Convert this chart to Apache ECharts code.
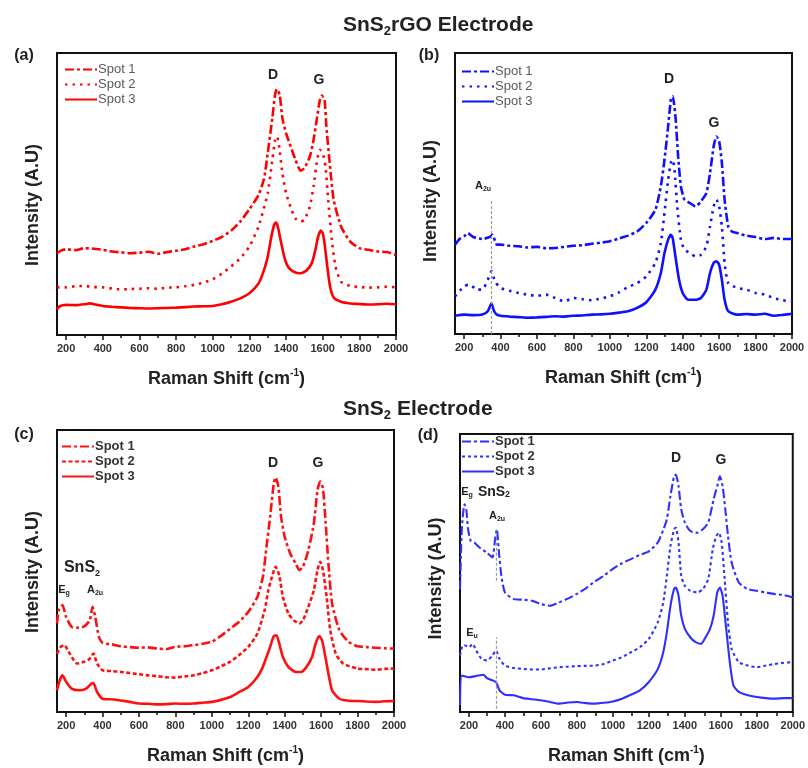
<!DOCTYPE html>
<html>
<head>
<meta charset="utf-8">
<script src="https://cdn.jsdelivr.net/npm/echarts@6/dist/echarts.min.js"></script>
<style>
  html, body { margin: 0; padding: 0; background: #fff; }
  #chart { width: 808px; height: 768px; }
</style>
</head>
<body>
<div id="chart"></div>
<script>
// Raman spectra, three spots per electrode, offset vertically (arbitrary units 0–100)
const shiftMin = 150, shiftMax = 2000;
const majorTicks = [200, 400, 600, 800, 1000, 1200, 1400, 1600, 1800, 2000];
const minorTicks = [300, 500, 700, 900, 1100, 1300, 1500, 1700, 1900];
const spotNames = ['Spot 1', 'Spot 2', 'Spot 3'];

// (a) SnS2rGO electrode, red
const aSpot1 = [[150,29.0],[175,30.0],[200,30.4],[250,30.1],[300,30.8],[350,30.6],[400,30.2],[450,29.6],[500,29.3],[550,29.0],[600,29.2],[650,29.5],[700,28.8],[750,29.4],[800,29.9],[850,30.4],[900,31.4],[950,32.2],[1000,33.4],[1050,34.8],[1100,37.0],[1150,40.2],[1200,44.6],[1250,49.7],[1280,55.5],[1300,64.5],[1325,76.9],[1340,85.2],[1350,87.2],[1365,85.2],[1380,76.9],[1400,71.6],[1425,66.9],[1450,62.4],[1480,58.3],[1500,59.2],[1530,63.3],[1550,69.2],[1570,77.5],[1585,83.4],[1595,84.9],[1610,83.4],[1620,74.0],[1640,59.8],[1660,47.9],[1700,38.5],[1750,33.1],[1800,30.8],[1850,30.2],[1900,29.6],[1950,29.4],[2000,28.4]];
const aSpot2 = [[150,16.9],[200,16.9],[250,17.3],[300,17.4],[350,17.0],[400,16.9],[450,16.5],[500,16.2],[550,16.3],[600,16.4],[650,16.6],[700,16.4],[750,16.8],[800,16.9],[850,17.3],[900,17.8],[950,18.6],[1000,19.8],[1050,21.8],[1100,24.3],[1150,27.2],[1200,31.4],[1250,38.5],[1300,50.3],[1325,62.1],[1340,69.2],[1350,70.4],[1360,68.0],[1380,57.4],[1400,50.3],[1430,44.4],[1450,41.4],[1480,40.2],[1500,40.8],[1530,45.6],[1550,52.7],[1570,62.1],[1585,65.7],[1600,64.5],[1615,59.8],[1630,47.9],[1650,33.7],[1670,24.3],[1700,18.9],[1750,17.4],[1800,17.0],[1850,16.8],[1900,16.9],[1950,17.1],[2000,16.9]];
const aSpot3 = [[150,9.1],[165,10.2],[200,10.7],[250,10.6],[300,10.9],[330,11.2],[360,10.8],[400,10.3],[450,10.0],[500,9.8],[550,9.6],[600,9.5],[650,9.4],[700,9.5],[750,9.6],[800,9.7],[850,9.9],[900,10.1],[950,10.2],[1000,10.3],[1050,10.9],[1100,11.8],[1150,13.0],[1200,14.8],[1250,18.3],[1280,23.1],[1300,27.8],[1320,34.9],[1335,39.1],[1345,39.9],[1355,38.5],[1370,33.7],[1390,27.8],[1410,24.3],[1440,22.5],[1480,21.9],[1510,22.8],[1540,25.4],[1560,30.2],[1575,34.9],[1590,37.0],[1600,36.1],[1610,32.5],[1625,24.3],[1640,17.2],[1660,13.3],[1700,11.8],[1750,11.2],[1800,11.0],[1850,10.8],[1900,10.9],[1950,11.1],[2000,10.9]];

// (b) SnS2rGO electrode, blue
const bSpot1 = [[150,31.8],[175,33.8],[200,34.8],[220,35.9],[250,34.5],[300,33.8],[340,34.5],[355,35.3],[380,31.8],[400,31.8],[450,31.4],[500,31.2],[550,30.8],[600,31.0],[650,30.5],[700,30.6],[750,31.0],[800,31.4],[850,31.6],[900,32.1],[950,32.5],[1000,33.0],[1050,34.0],[1100,35.0],[1150,36.5],[1200,39.5],[1250,44.2],[1280,52.6],[1300,62.0],[1320,73.9],[1335,83.4],[1345,84.6],[1360,77.5],[1375,63.2],[1390,52.6],[1410,47.8],[1440,46.6],[1470,45.4],[1500,47.2],[1530,50.2],[1550,57.3],[1570,66.8],[1585,70.3],[1600,68.6],[1615,60.9],[1630,47.8],[1650,38.3],[1670,36.5],[1700,35.9],[1750,35.0],[1800,34.5],[1850,33.8],[1900,34.2],[1950,33.8],[2000,33.8]];
const bSpot2 = [[150,13.4],[200,17.0],[230,17.6],[270,15.8],[300,15.8],[330,19.3],[350,22.3],[370,18.7],[400,16.4],[450,15.4],[500,14.6],[550,14.0],[600,13.6],[650,14.0],[700,12.8],[750,11.6],[800,12.8],[850,12.4],[900,12.0],[950,12.6],[1000,13.4],[1050,14.8],[1100,16.7],[1150,18.1],[1200,20.5],[1250,25.3],[1280,32.4],[1300,43.1],[1320,54.9],[1335,60.9],[1345,62.0],[1355,58.5],[1370,45.4],[1390,33.6],[1410,30.0],[1440,28.8],[1470,27.6],[1500,28.2],[1530,31.2],[1550,38.3],[1570,45.4],[1585,47.8],[1600,45.4],[1615,38.3],[1630,25.3],[1650,18.1],[1700,16.4],[1750,15.8],[1800,14.6],[1850,14.0],[1900,12.8],[1950,12.0],[2000,11.6]];
const bSpot3 = [[150,6.5],[200,6.9],[250,6.7],[300,6.9],[330,8.1],[350,10.8],[365,8.1],[380,6.9],[400,6.5],[450,6.2],[500,6.0],[550,5.8],[600,5.9],[650,6.1],[700,6.3],[750,6.2],[800,6.5],[850,6.6],[900,6.9],[950,7.0],[1000,7.2],[1050,7.6],[1100,8.1],[1150,9.3],[1200,11.3],[1250,15.8],[1280,21.7],[1300,28.8],[1320,33.6],[1335,35.3],[1345,34.2],[1360,27.6],[1380,19.3],[1400,14.6],[1430,12.2],[1470,12.2],[1500,12.8],[1530,15.8],[1550,21.7],[1570,25.3],[1585,25.9],[1600,24.7],[1615,19.3],[1630,12.2],[1650,8.1],[1700,6.9],[1750,7.1],[1800,6.9],[1850,7.2],[1900,6.5],[1950,6.8],[2000,7.2]];

// (c) SnS2 electrode, red
const cSpot1 = [[150,31.4],[160,36.1],[180,37.9],[200,33.7],[230,30.2],[260,29.9],[300,30.4],[330,32.5],[345,37.3],[360,33.7],[380,26.6],[400,24.5],[450,24.0],[500,23.3],[550,23.0],[600,22.8],[650,22.9],[700,22.5],[750,22.3],[800,23.1],[850,23.3],[900,23.7],[950,24.2],[1000,24.9],[1050,27.0],[1100,29.5],[1150,32.0],[1200,35.5],[1250,40.8],[1280,47.9],[1300,58.6],[1320,69.2],[1340,81.1],[1350,83.2],[1365,79.9],[1380,69.2],[1400,62.1],[1430,56.2],[1460,52.7],[1480,50.3],[1500,51.5],[1530,57.4],[1560,66.9],[1580,78.7],[1595,81.7],[1610,79.3],[1625,66.9],[1640,52.7],[1660,38.5],[1700,29.0],[1750,24.9],[1800,23.3],[1850,23.0],[1900,22.8],[1950,22.6],[2000,22.5]];
const cSpot2 = [[150,20.7],[170,23.1],[190,23.7],[220,20.7],[260,17.2],[300,17.8],[330,18.9],[350,20.7],[370,17.2],[400,14.8],[450,14.5],[500,14.2],[550,13.8],[600,13.4],[650,13.0],[700,12.7],[750,12.3],[800,12.2],[850,12.6],[900,13.0],[950,13.8],[1000,14.8],[1050,16.2],[1100,17.8],[1150,20.2],[1200,23.1],[1250,27.8],[1290,36.1],[1310,43.2],[1330,47.9],[1350,51.5],[1370,48.5],[1390,40.8],[1420,34.9],[1450,32.5],[1480,31.4],[1500,32.5],[1530,37.3],[1560,43.2],[1580,50.3],[1595,53.3],[1610,50.3],[1630,40.8],[1650,29.0],[1680,20.7],[1720,17.2],[1800,15.4],[1850,15.2],[1900,15.0],[1950,15.3],[2000,15.4]];
const cSpot3 = [[150,7.7],[165,11.2],[180,13.0],[200,10.7],[230,8.3],[270,7.7],[310,8.3],[340,10.1],[350,10.3],[370,7.1],[400,4.7],[450,4.5],[500,4.1],[550,3.6],[600,3.0],[650,2.9],[700,2.7],[750,2.8],[800,3.0],[850,2.9],[900,3.0],[950,3.3],[1000,3.6],[1050,4.3],[1100,5.3],[1150,7.1],[1200,8.9],[1250,12.4],[1280,16.0],[1300,19.5],[1320,23.1],[1340,26.9],[1355,27.2],[1370,24.3],[1390,19.5],[1420,16.0],[1460,14.2],[1490,14.2],[1520,16.0],[1550,19.5],[1570,24.3],[1590,26.9],[1605,25.4],[1620,20.7],[1640,13.6],[1660,7.7],[1700,4.7],[1750,4.0],[1800,3.9],[1850,3.7],[1900,3.6],[1950,3.8],[2000,3.9]];

// (d) SnS2 electrode, blue
const dSpot1 = [[150,44.2],[160,65.7],[175,74.7],[185,72.9],[195,65.7],[210,61.5],[230,60.9],[260,59.1],[300,57.3],[330,55.6],[345,62.1],[355,65.7],[365,58.5],[380,49.0],[400,43.0],[450,40.6],[500,40.4],[550,40.0],[600,38.8],[650,38.2],[700,39.4],[750,40.8],[800,42.5],[850,44.5],[900,47.0],[950,49.0],[1000,51.5],[1050,53.5],[1100,55.0],[1150,56.5],[1200,57.8],[1250,61.0],[1280,65.5],[1300,69.3],[1320,77.7],[1340,84.8],[1350,85.4],[1365,81.2],[1380,72.9],[1400,68.1],[1430,65.1],[1470,64.5],[1500,65.7],[1530,68.1],[1560,76.5],[1580,81.2],[1595,84.8],[1610,81.2],[1625,72.9],[1640,63.3],[1660,53.8],[1700,46.6],[1750,44.2],[1800,43.6],[1850,43.0],[1900,42.4],[1950,42.1],[2000,41.2]];
const dSpot2 = [[150,20.3],[165,23.9],[180,23.9],[200,23.3],[220,24.5],[240,22.1],[270,19.1],[300,18.5],[330,20.3],[350,22.1],[370,19.1],[400,16.7],[450,15.8],[500,15.5],[550,15.3],[600,15.3],[650,15.7],[700,16.1],[750,16.3],[800,16.5],[850,16.6],[900,16.7],[950,17.3],[1000,18.5],[1050,19.7],[1100,21.5],[1150,23.3],[1200,26.3],[1250,32.3],[1280,39.4],[1300,49.0],[1320,59.7],[1340,65.7],[1350,66.3],[1365,60.9],[1380,49.0],[1400,45.4],[1430,43.6],[1470,43.0],[1500,44.2],[1530,47.8],[1555,58.5],[1575,63.3],[1590,64.5],[1605,60.9],[1620,49.0],[1640,32.3],[1660,22.7],[1700,17.9],[1750,16.7],[1800,16.1],[1850,16.7],[1900,17.3],[1950,17.7],[2000,17.9]];
const dSpot3 = [[150,2.4],[160,13.1],[200,12.5],[250,13.1],[280,13.4],[300,12.2],[330,11.4],[350,10.8],[370,7.8],[400,6.2],[450,6.0],[500,5.0],[550,4.6],[600,4.2],[650,3.6],[700,3.0],[750,3.4],[800,3.6],[850,3.2],[900,3.0],[950,3.3],[1000,3.8],[1050,4.8],[1100,6.2],[1150,7.8],[1200,10.8],[1250,15.5],[1280,21.5],[1300,28.7],[1320,38.2],[1340,44.2],[1350,44.8],[1365,41.8],[1380,34.6],[1400,29.9],[1430,26.9],[1460,25.1],[1490,24.5],[1510,26.3],[1540,29.9],[1560,34.6],[1580,43.0],[1595,44.8],[1610,41.8],[1630,29.9],[1650,17.9],[1670,9.6],[1700,7.2],[1750,6.0],[1800,5.4],[1850,5.0],[1900,4.8],[1950,5.0],[2000,5.0]];

// A2u mode guide lines (shift, intensity range)
const bA2uGuide = [[350, 0], [350, 47.8]];
const dA2uGuides = [[[354, 47.2], [354, 65.7]], [[354, 1.2], [354, 26.9]]];

const FONT = 'Arial, "Liberation Sans", sans-serif';

const panels = [
  { key: 'a', rect: { left: 57, top: 53, width: 339, height: 282 }, color: '#ff0000',
    spots: [aSpot1, aSpot2, aSpot3],
    dash: [[9, 3, 3, 3], [2.5, 5], 'solid'], width: 2.6, yNameShift: 22,
    legend: { left: 64, top: 63, color: '#5a5a5a', weight: 'normal' }, guides: [] },
  { key: 'b', rect: { left: 455, top: 53, width: 337, height: 281 }, color: '#1010ff',
    spots: [bSpot1, bSpot2, bSpot3],
    dash: [[9, 3, 3, 3], [2.5, 5], 'solid'], width: 2.6, yNameShift: 15,
    legend: { left: 461, top: 65, color: '#5a5a5a', weight: 'normal' }, guides: [bA2uGuide] },
  { key: 'c', rect: { left: 57, top: 430, width: 337, height: 282 }, color: '#ff1010',
    spots: [cSpot1, cSpot2, cSpot3],
    dash: [[9, 3, 3, 3], [4, 2.5], 'solid'], width: 2.6, yNameShift: 2,
    legend: { left: 61, top: 440, color: '#333', weight: 'bold' }, guides: [] },
  { key: 'd', rect: { left: 460, top: 434, width: 335, height: 279 }, color: '#2f2fff',
    spots: [dSpot1, dSpot2, dSpot3],
    dash: [[9, 3, 3, 3], [3, 3], 'solid'], width: 2.1, yNameShift: 11,
    legend: { left: 461, top: 435, color: '#333', weight: 'bold' }, guides: dA2uGuides }
];

const grids = [], xAxes = [], yAxes = [], series = [], legends = [];

panels.forEach((p, i) => {
  // main grid with frame, plus an overlay grid that carries the minor ticks
  grids.push(Object.assign({ show: true, borderColor: '#111', borderWidth: 2, backgroundColor: 'transparent' }, p.rect));
  grids.push(Object.assign({ show: false }, p.rect));
  const g = i * 2;
  xAxes.push({
    gridIndex: g, type: 'value', min: shiftMin, max: shiftMax, position: 'bottom',
    name: 'Raman Shift (cm{sup|-1})', nameLocation: 'middle', nameGap: 33,
    nameTextStyle: {
      fontFamily: FONT, fontSize: 18, fontWeight: 'bold', color: '#222', lineHeight: 22,
      rich: { sup: { fontFamily: FONT, fontSize: 10, fontWeight: 'bold', color: '#222', verticalAlign: 'top', lineHeight: 11 } }
    },
    axisLine: { show: true, onZero: false, lineStyle: { color: '#111', width: 2 } },
    axisTick: { show: true, length: 5, customValues: majorTicks, lineStyle: { color: '#111', width: 1.5 } },
    axisLabel: { customValues: majorTicks, formatter: v => String(v), fontFamily: FONT, fontSize: 11, fontWeight: 'bold', color: '#333', margin: 8 },
    splitLine: { show: false }
  });
  xAxes.push({
    gridIndex: g + 1, type: 'value', min: shiftMin, max: shiftMax, position: 'bottom',
    axisLine: { show: false },
    axisTick: { show: true, length: 3, customValues: minorTicks, lineStyle: { color: '#111', width: 1.5 } },
    axisLabel: { show: false }, splitLine: { show: false }
  });
  yAxes.push({
    gridIndex: g, type: 'value', min: 0, max: 100,
    name: 'Intensity (A.U)', nameLocation: 'middle', nameGap: 15,
    nameTextStyle: { fontFamily: FONT, fontSize: 18, fontWeight: 'bold', color: '#222', padding: [0, p.yNameShift, 0, 0] },
    axisLine: { show: false }, axisTick: { show: false }, axisLabel: { show: false }, splitLine: { show: false }
  });
  yAxes.push({ gridIndex: g + 1, type: 'value', min: 0, max: 100, show: false });

  const names = [];
  p.spots.forEach((data, s) => {
    const name = p.key + ' ' + spotNames[s];
    names.push(name);
    const ser = {
      type: 'line', name, xAxisIndex: g, yAxisIndex: g, data,
      symbol: 'none', showSymbol: false, smooth: 0.2, animation: false,
      lineStyle: { color: p.color, width: p.width, type: p.dash[s] },
      itemStyle: { color: p.color }, z: 3
    };
    if (s === 2 && p.guides.length) {
      ser.markLine = {
        silent: true, symbol: 'none', animation: false,
        label: { show: false },
        lineStyle: { color: '#9a9a9a', type: [3, 2], width: 1.2 },
        data: p.guides.map(seg => [{ coord: seg[0] }, { coord: seg[1] }])
      };
    }
    series.push(ser);
  });
  legends.push({
    data: names, orient: 'vertical', left: p.legend.left, top: p.legend.top,
    itemWidth: 32, itemHeight: 10, itemGap: 2, padding: 0, selectedMode: false,
    itemStyle: { opacity: 0, borderWidth: 0 },
    formatter: n => n.slice(n.indexOf(' ') + 1),
    textStyle: { fontFamily: FONT, fontSize: 13, color: p.legend.color, fontWeight: p.legend.weight, padding: [0, 0, 0, -4] }
  });
});

// rich text styles shared by the annotations
const rich = {
  b: { fontFamily: FONT, fontSize: 14, fontWeight: 'bold', color: '#222' },
  big: { fontFamily: FONT, fontSize: 16, fontWeight: 'bold', color: '#222', lineHeight: 20 },
  bs: { fontFamily: FONT, fontSize: 9, fontWeight: 'bold', color: '#222', verticalAlign: 'bottom', lineHeight: 11 },
  m: { fontFamily: FONT, fontSize: 11, fontWeight: 'bold', color: '#333', lineHeight: 14 },
  ms: { fontFamily: FONT, fontSize: 7, fontWeight: 'bold', color: '#555', verticalAlign: 'bottom', lineHeight: 8 }
};
const txt = (x, y, text, align) => ({
  type: 'text', x, y, silent: true,
  style: { text, rich, align: align || 'center', verticalAlign: 'middle', font: 'bold 14px ' + FONT, fill: '#222' }
});

const graphics = [
  txt(24, 56, '{big|(a)}'), txt(429, 56, '{big|(b)}'), txt(24, 435, '{big|(c)}'), txt(428, 436, '{big|(d)}'),
  // peak markers
  txt(273, 75, '{b|D}'), txt(319, 80, '{b|G}'),
  txt(669, 79, '{b|D}'), txt(714, 123, '{b|G}'),
  txt(273, 463, '{b|D}'), txt(318, 463, '{b|G}'),
  txt(676, 458, '{b|D}'), txt(721, 460, '{b|G}'),
  // SnS2 phonon modes
  txt(483, 186, '{m|A}{ms|2u}'),
  txt(82, 568, '{big|SnS}{bs|2}'),
  txt(64, 590, '{m|E}{ms|g}'), txt(95, 590, '{m|A}{ms|2u}'),
  txt(467, 492, '{m|E}{ms|g}'), txt(494, 492, '{b|SnS}{bs|2}'),
  txt(497, 516, '{m|A}{ms|2u}'),
  txt(472, 633, '{m|E}{ms|u}')
];

const titleRich = {
  m: { fontFamily: FONT, fontSize: 21, fontWeight: 'bold', color: '#222', lineHeight: 26 },
  s: { fontFamily: FONT, fontSize: 13, fontWeight: 'bold', color: '#222', verticalAlign: 'bottom', lineHeight: 15 }
};

const chart = echarts.init(document.getElementById('chart'), null, { renderer: 'canvas' });
chart.setOption({
  backgroundColor: '#fff',
  animation: false,
  title: [
    { text: '{m|SnS}{s|2}{m|rGO Electrode}', left: 343, top: 12, padding: 0, textStyle: { rich: titleRich } },
    { text: '{m|SnS}{s|2}{m| Electrode}', left: 343, top: 396, padding: 0, textStyle: { rich: titleRich } }
  ],
  grid: grids, xAxis: xAxes, yAxis: yAxes, legend: legends, series,
  graphic: graphics
});
</script>
</body>
</html>
